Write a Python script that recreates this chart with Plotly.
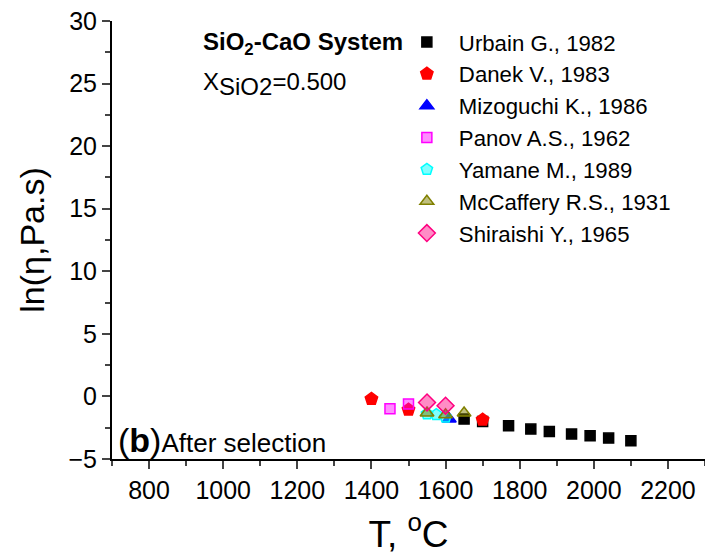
import plotly.graph_objects as go

# ---- data (T in °C, ln(eta, Pa.s)) ----
urbain_T = [1650, 1700, 1770, 1830, 1880, 1940, 1990, 2040, 2100]
urbain_v = [-1.81, -2.00, -2.34, -2.61, -2.80, -3.00, -3.14, -3.33, -3.54]
danek_T = [1400, 1500, 1700]
danek_v = [-0.20, -1.06, -1.86]
mizo_T = [1610]
mizo_v = [-1.80]
panov_T = [1450, 1500]
panov_v = [-0.98, -0.61]
yamane_T = [1550, 1575, 1600]
yamane_v = [-1.40, -1.45, -1.65]
mccaf_T = [1550, 1600, 1650]
mccaf_v = [-1.33, -1.46, -1.33]
shira_T = [1550, 1600]
shira_v = [-0.48, -0.74]

x_ticks = [800, 1000, 1200, 1400, 1600, 1800, 2000, 2200]
y_ticks = [-5, 0, 5, 10, 15, 20, 25, 30]

series = [
    ("Urbain G., 1982", urbain_T, urbain_v, "square", "black", "black", 10),
    ("Danek V., 1983", danek_T, danek_v, "pentagon", "red", "red", 13),
    ("Mizoguchi K., 1986", mizo_T, mizo_v, "triangle-up", "blue", "blue", 12),
    ("Panov A.S., 1962", panov_T, panov_v, "square", "rgba(255,0,255,0.45)", "magenta", 10),
    ("Yamane M., 1989", yamane_T, yamane_v, "pentagon", "rgba(0,255,255,0.5)", "cyan", 12),
    ("McCaffery R.S., 1931", mccaf_T, mccaf_v, "triangle-up", "rgba(128,128,0,0.5)", "#808000", 12),
    ("Shiraishi Y., 1965", shira_T, shira_v, "diamond", "rgba(255,0,128,0.45)", "#FF0080", 13),
]

fig = go.Figure()
for name, xs, ys, sym, fill, line, size in series:
    fig.add_trace(go.Scatter(
        x=xs, y=ys, mode="markers", name=name,
        marker=dict(symbol=sym, color=fill, size=size,
                    line=dict(color=line, width=1.5)),
    ))

font = "Arial, Liberation Sans, sans-serif"
fig.update_layout(
    width=705, height=555,
    margin=dict(l=112, r=0, t=21, b=96),
    paper_bgcolor="white", plot_bgcolor="white",
    font=dict(family=font, color="black"),
    showlegend=True,
    legend=dict(x=0.477, y=1.0, xanchor="left", yanchor="top",
                bgcolor="rgba(0,0,0,0)", borderwidth=0,
                font=dict(size=22.2, family=font), tracegroupgap=0,
                itemwidth=54),
    xaxis=dict(range=[700, 2300], tickvals=x_ticks, ticks="outside", ticklen=8,
               tickwidth=2, showline=True, linewidth=2, linecolor="black",
               showgrid=False, zeroline=False, tickfont=dict(size=25),
               minor=dict(dtick=100, tick0=700, ticks="outside", ticklen=5, tickwidth=2),
               title=dict(text="T, <sup>o</sup>C", font=dict(size=37), standoff=20)),
    xaxis2=dict(range=[0, 10], dtick=1, overlaying="x", side="top", anchor="y",
                ticks="inside", ticklen=5, tickwidth=1.5, showline=True,
                linewidth=2, linecolor="black", showticklabels=False,
                showgrid=False, zeroline=False),
    yaxis=dict(range=[-5, 30], tickvals=y_ticks, ticks="outside", ticklen=8,
               tickwidth=2, showline=True, linewidth=2, linecolor="black",
               showgrid=False, zeroline=False, tickfont=dict(size=25),
               minor=dict(dtick=2.5, tick0=0, ticks="outside", ticklen=5, tickwidth=2),
               title=dict(text="ln(η,Pa.s)", font=dict(size=34), standoff=14)),
)

fig.add_annotation(xref="paper", yref="paper", x=(201 - 112) / 593, y=(459 - 43) / 438,
                   xanchor="left", yanchor="middle", showarrow=False,
                   text="<b>SiO<sub>2</sub>-CaO System</b>", font=dict(size=24))
fig.add_annotation(xref="paper", yref="paper", x=(201 - 112) / 593, y=(459 - 84) / 438,
                   xanchor="left", yanchor="middle", showarrow=False,
                   text="X<sub><span style='font-size:24px'>SiO2</span></sub>=0.500",
                   font=dict(size=24))
fig.add_annotation(xref="paper", yref="paper", x=(116 - 112) / 593, y=(459 - 440) / 438,
                   xanchor="left", yanchor="middle", showarrow=False,
                   text="<span style='font-size:34px'>(<b>b</b>)</span>After selection",
                   font=dict(size=26))

fig.write_html("out.html")
